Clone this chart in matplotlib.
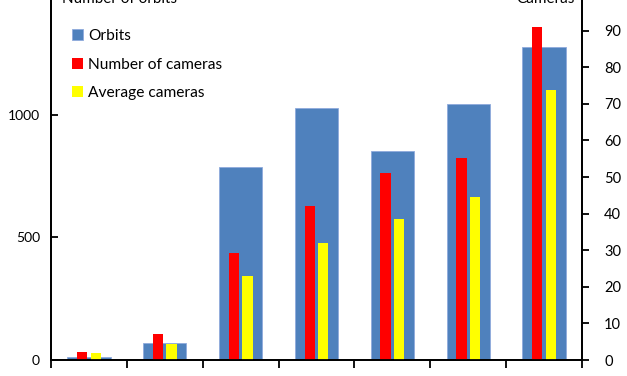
import matplotlib
matplotlib.use("Agg")
import numpy as np
from matplotlib import pyplot as plt

plt.rcParams['font.family'] = ['Lato', 'DejaVu Sans']

orbits = [12, 70, 788, 1030, 853, 1046, 1276]
n_cameras = [2.1, 7.0, 29.2, 42.1, 51.1, 55.2, 91.0]
avg_cameras = [2.0, 4.3, 23.0, 32.0, 38.5, 44.5, 73.7]

x = np.arange(len(orbits))
blu = "#4F81BD"
rosso = "#FF0000"
giallo = "#FFFF00"

fig = plt.figure(figsize=(6.27, 3.76), dpi=100)
ax = fig.add_axes([51 / 627, 16 / 376, (582 - 51) / 627, 360 / 376])
ax2 = ax.twinx()

b1 = ax.bar(x, orbits, width=0.57, color=blu, edgecolor="#8FAADC", linewidth=0.6, label="Orbits")
b2 = ax2.bar(x - 0.09, n_cameras, width=0.135, color=rosso, label="Number of cameras")
b3 = ax2.bar(x + 0.09, avg_cameras, width=0.135, color=giallo, label="Average cameras")

ax.set_xlim(-0.5, len(orbits) - 0.5)
ax.set_ylim(0, 1469)
ax2.set_ylim(0, 98.4)
ax.set_yticks([0, 500, 1000])
ax2.set_yticks(range(0, 100, 10))
ax.set_xticks(np.arange(-0.5, len(orbits), 1.0))
ax.set_xticklabels([])

for a in (ax, ax2):
    a.spines["top"].set_visible(False)
    for s in a.spines.values():
        s.set_linewidth(1.3)
ax.tick_params(axis="y", direction="in", length=5, width=1.3, labelsize=10, pad=8)
ax2.tick_params(axis="y", direction="out", length=5, width=1.3, labelsize=10.5, pad=11)
ax.tick_params(axis="x", direction="out", length=6, width=1.3)

fig.text(62 / 627, 1 - 3 / 376, "Number of orbits", fontsize=11, va="baseline", ha="left")
fig.text(575 / 627, 1 - 3 / 376, "Cameras", fontsize=11, va="baseline", ha="right")

ax.legend(handles=[b1, b2, b3], loc="upper left", bbox_to_anchor=(64 / 627, 1 - 21 / 376),
          bbox_transform=fig.transFigure, frameon=False, fontsize=11.2,
          handlelength=0.7, handleheight=0.7, handletextpad=0.35, labelspacing=0.95, borderpad=0)

fig.savefig("out.png", dpi=100)
